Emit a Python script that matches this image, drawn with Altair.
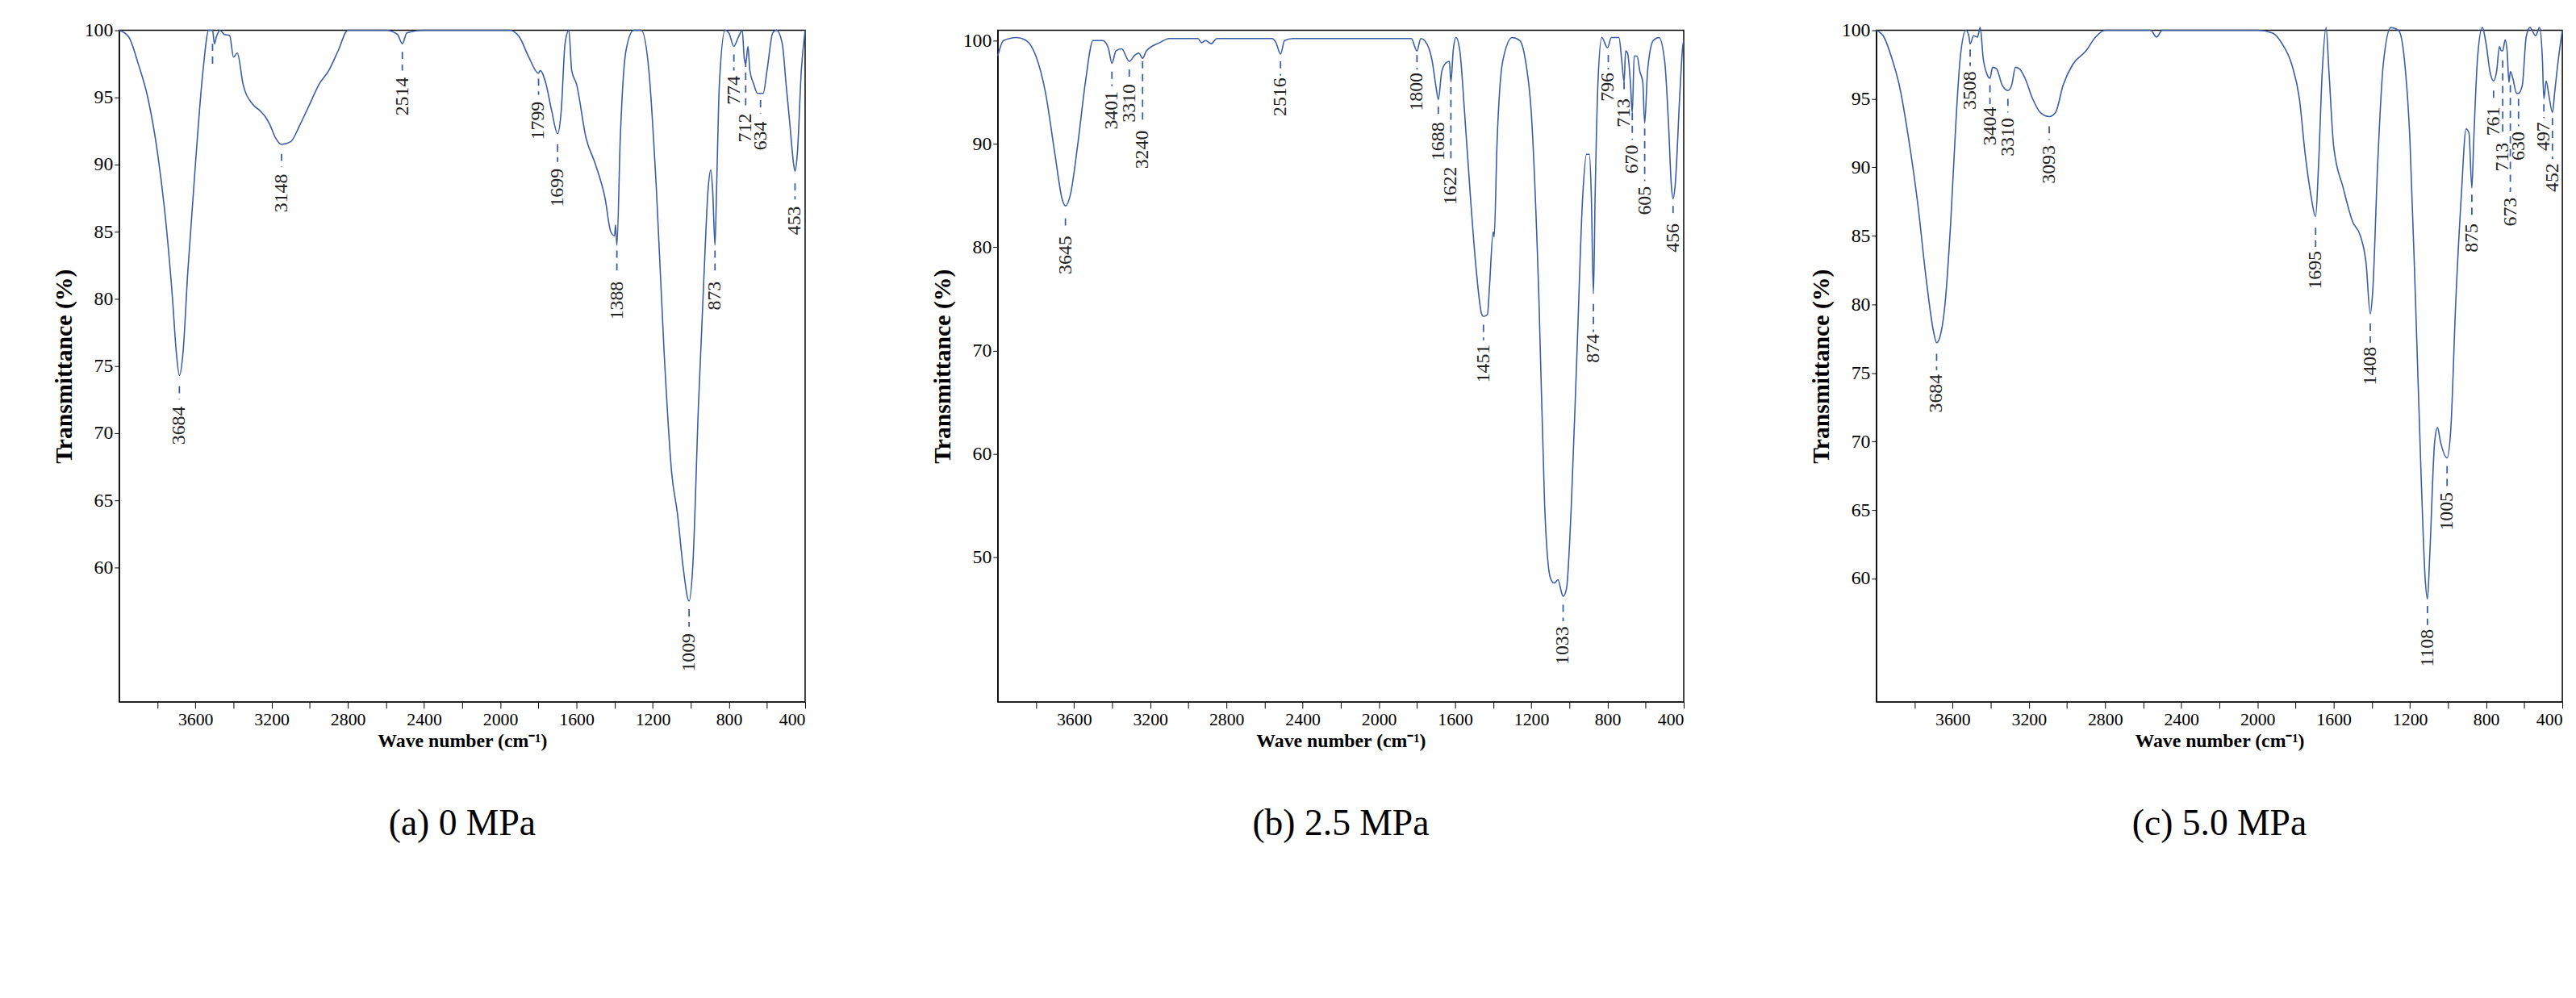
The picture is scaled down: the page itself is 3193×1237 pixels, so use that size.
import altair as alt
import pandas as pd

# spectra: (wave number, transmittance)
wn_a = [4000, 3950, 3900, 3850, 3800, 3750, 3720, 3700, 3684, 3665, 3640, 3600, 3560, 3530, 3510, 3500, 3490, 3470,
        3450, 3420, 3400, 3380, 3350, 3300, 3260, 3230, 3210, 3180, 3148, 3100, 3050, 3000, 2950, 2900, 2850, 2800,
        2600, 2540, 2514, 2490, 2400, 1950, 1900, 1850, 1800, 1790, 1760, 1730, 1699, 1680, 1660, 1640, 1625, 1600,
        1550, 1500, 1450, 1420, 1400, 1395, 1388, 1370, 1340, 1300, 1260, 1220, 1180, 1140, 1100, 1070, 1040, 1009,
        990, 960, 930, 910, 895, 885, 873, 865, 850, 820, 800, 774, 750, 730, 720, 712, 700, 690, 670, 650, 620, 600,
        570, 550, 520, 500, 480, 460, 453, 440, 420, 400]
t_a = [100, 99.5, 97.5, 95, 91, 85, 80, 76, 74.3, 76, 82, 90, 97, 100, 100, 99, 99.5, 100,
       99.7, 99.6, 98, 98.3, 96, 94.5, 94, 93.5, 93, 92, 91.5, 91.7, 93, 94.5, 96, 97, 98.5, 100,
       100, 99.7, 99, 99.8, 100, 100, 99.5, 98, 96.8, 97, 96, 94, 92.3, 94, 99, 100, 97, 96,
       92, 90, 87.5, 85, 84.7, 85.5, 84, 92, 98.5, 100, 100, 97, 88, 76, 67, 64, 60, 57.5,
       60, 72, 82, 88, 89.6, 88, 84, 88, 96, 100, 99.8, 98.8, 99.5, 100, 98, 97.5, 98.8, 97, 96, 95.3, 95.3, 97,
       99.8, 100, 99, 96, 93, 90, 89.5, 91, 97, 100]

wn_b = [4000, 3970, 3900, 3850, 3800, 3750, 3700, 3660, 3645, 3620, 3580, 3540, 3500, 3450, 3420, 3401, 3380, 3350,
        3310, 3280, 3260, 3240, 3220, 3150, 3100, 2950, 2930, 2910, 2880, 2850, 2560, 2540, 2516, 2495, 2450, 1830,
        1800, 1780, 1760, 1720, 1700, 1688, 1670, 1650, 1630, 1622, 1610, 1595, 1575, 1550, 1520, 1490, 1460, 1451,
        1430, 1420, 1400, 1395, 1380, 1350, 1300, 1260, 1230, 1200, 1160, 1130, 1100, 1080, 1060, 1040, 1033, 1015,
        990, 960, 930, 910, 895, 885, 874, 865, 850, 830, 800, 780, 740, 725, 713, 705, 695, 680, 670, 660, 645, 630,
        615, 605, 590, 560, 530, 500, 480, 465, 456, 445, 420, 405, 400]
t_b = [98.5, 100, 100.3, 100, 98.5, 95, 89, 84.5, 84, 85, 90, 96, 100, 100, 99.3, 97.8, 99, 99.2,
       98, 98.6, 98.8, 98.3, 99, 99.8, 100.2, 100.2, 99.8, 100, 99.7, 100.2, 100.2, 99.8, 98.7, 100, 100.2, 100.2,
       99, 100.2, 100, 98, 95.5, 94.3, 97, 97.8, 98, 96, 99, 100.3, 99, 93, 85, 78, 73.5, 73.3,
       73.5, 76, 81.5, 81, 90, 98, 100.3, 100, 98, 93, 75, 55, 48, 47.5, 47.8, 46.5, 46.2, 47,
       55, 70, 85, 89, 89, 85, 75.5, 85, 96, 100.3, 99.3, 100.3, 100.3, 98, 96, 99, 98.8, 96, 93, 98.5, 98.5, 97,
       96, 92, 97, 100, 100.3, 98, 92, 86, 84.7, 86, 95, 99.5, 100]

wn_c = [4000, 3960, 3920, 3880, 3830, 3780, 3740, 3700, 3684, 3660, 3640, 3610, 3580, 3560, 3530, 3515, 3508, 3490,
        3470, 3455, 3440, 3420, 3404, 3390, 3370, 3340, 3310, 3290, 3270, 3250, 3220, 3180, 3140, 3093, 3060, 3020,
        2970, 2900, 2850, 2800, 2560, 2530, 2500, 2000, 1920, 1870, 1820, 1780, 1750, 1720, 1695, 1680, 1660, 1640,
        1625, 1600, 1550, 1500, 1460, 1430, 1408, 1395, 1370, 1340, 1300, 1260, 1230, 1200, 1170, 1140, 1120, 1108,
        1095, 1070, 1055, 1040, 1005, 985, 960, 930, 905, 890, 875, 865, 845, 820, 800, 780, 761, 745, 730, 720, 713,
        700, 690, 680, 673, 660, 640, 630, 610, 590, 570, 540, 520, 505, 497, 485, 470, 452, 440, 420, 400]
t_c = [100, 99.5, 98, 96, 92, 87, 82, 78, 77.2, 78, 80, 86, 94, 98, 100, 99.6, 99, 99.6,
       99.5, 100.2, 98, 96.8, 96.5, 97.3, 97.2, 96, 95.6, 96, 97.3, 97.2, 96.5, 95, 94, 93.7, 94, 96,
       97.5, 98.5, 99.5, 100, 100, 99.5, 100, 100, 99.8, 99, 97.5, 95, 91, 88, 86.4, 90, 97, 100.2,
       97, 91.5, 88.5, 86, 85, 83, 79.3, 81, 90, 97.5, 100.2, 100, 98, 92, 80, 67, 60, 58.5,
       62, 70, 71, 70, 68.8, 71, 80, 88, 92.8, 92.5, 88.5, 92, 98, 100.2, 99, 97, 96.3, 97, 98.8, 98.5, 98.5,
       99.3, 98.5, 96.2, 97, 96.5, 95.4, 95.4, 96, 99.5, 100.2, 99.6, 100.2, 98, 95, 96.3, 95.2, 94, 95.5, 98, 100]

# peak labels: wave number, text, dash top, dash bottom, text top
pk_a = [3684, 3148, 2514, 1799, 1699, 1388, 1009, 873, 774, 712, 634, 453, 3510]
pk_a_text = ["3684", "3148", "2514", "1799", "1699", "1388", "1009", "873", "774", "712", "634", "453", ""]
pk_a_top = [73.5, 90.8, 98.4, 96.4, 91.5, 83.6, 56.9, 83.6, 98.2, 97.8, 94.8, 88.6, 99.0]
pk_a_bot = [72.5, 89.8, 97.0, 95.2, 90.2, 81.8, 55.6, 81.8, 97.0, 94.2, 93.8, 87.4, 97.2]
pk_a_txt = [72.0, 89.3, 96.5, 94.7, 89.7, 81.3, 55.1, 81.3, 96.6, 93.8, 93.2, 86.9, 97.0]

pk_b = [3645, 3401, 3310, 3240, 2516, 1800, 1688, 1622, 1451, 1033, 874, 796, 713, 670, 605, 456]
pk_b_text = [str(v) for v in pk_b]
pk_b_top = [82.8, 97.0, 97.2, 98.0, 98.0, 98.6, 93.6, 95.5, 72.5, 45.4, 74.5, 98.6, 96.0, 93.0, 91.5, 84.0]
pk_b_bot = [81.6, 95.6, 96.0, 91.8, 96.6, 97.2, 92.4, 88.4, 71.0, 43.8, 71.8, 97.2, 95.0, 90.4, 86.4, 82.8]
pk_b_txt = [81.1, 95.1, 95.8, 91.3, 96.4, 96.9, 92.1, 87.8, 70.6, 43.3, 71.6, 96.9, 94.4, 89.9, 85.9, 82.3]

pk_c = [3684, 3508, 3404, 3310, 3093, 1695, 1408, 1108, 1005, 875, 761, 713, 673, 630, 497, 452]
pk_c_text = [str(v) for v in pk_c]
pk_c_top = [76.4, 98.6, 96.0, 95.0, 93.0, 85.6, 78.6, 58.0, 68.2, 88.0, 95.6, 97.8, 96.0, 95.0, 94.6, 93.6]
pk_c_bot = [75.2, 97.4, 94.6, 94.0, 92.0, 84.2, 77.2, 56.6, 66.6, 86.2, 94.8, 92.2, 88.2, 93.0, 93.6, 90.6]
pk_c_txt = [74.9, 97.0, 94.4, 93.6, 91.6, 83.9, 76.9, 56.3, 66.3, 85.9, 94.4, 91.8, 87.8, 92.6, 93.3, 90.3]

LINE = "#3b5ca8"
SERIF = "Liberation Serif"


def panel(wn, t, pk, pk_text, pk_top, pk_bot, pk_txt, ymin, ymax, yvals, caption):
    spec = pd.DataFrame({"wn": wn, "t": t})
    peaks = pd.DataFrame({"wn": pk, "label": pk_text, "top": pk_top, "bot": pk_bot, "txt": pk_txt})
    xs = alt.Scale(domain=[4000, 400], nice=False)
    ys = alt.Scale(domain=[ymin, ymax], nice=False)
    line = alt.Chart(spec).mark_line(color=LINE, strokeWidth=1.6, interpolate="monotone").encode(
        x=alt.X("wn:Q", scale=xs, title="Wave number (cm⁻¹)",
                axis=alt.Axis(values=list(range(3800, 399, -200)), grid=False,
                              labelExpr="datum.value % 400 == 0 ? datum.value : ''",
                              labelFontSize=22, titleFontSize=24, titleFontWeight="bold",
                              labelFont=SERIF, titleFont=SERIF, labelColor="black", titleColor="black",
                              domainColor="black", tickColor="black", tickSize=8, labelPadding=4)),
        y=alt.Y("t:Q", scale=ys, title="Transmittance (%)",
                axis=alt.Axis(values=yvals, grid=False, labelFontSize=24, titleFontSize=30,
                              titleFontWeight="bold", labelFont=SERIF, titleFont=SERIF,
                              labelColor="black", titleColor="black", domainColor="black",
                              tickColor="black", tickSize=6, titlePadding=10)),
    )
    dash = alt.Chart(peaks).mark_rule(color=LINE, strokeWidth=1.8, strokeDash=[9, 7]).encode(
        x=alt.X("wn:Q", scale=xs), y=alt.Y("top:Q", scale=ys), y2="bot:Q")
    text = alt.Chart(peaks).mark_text(angle=270, align="right", baseline="middle", fontSize=24,
                                      font=SERIF, color="#222").encode(
        x=alt.X("wn:Q", scale=xs), y=alt.Y("txt:Q", scale=ys), text="label:N")
    return alt.layer(line, dash, text).properties(
        width=858, height=840,
        title=alt.TitleParams(caption, orient="bottom", fontSize=46, font=SERIF, fontWeight="normal",
                              color="black", offset=70))


pa = panel(wn_a, t_a, pk_a, pk_a_text, pk_a_top, pk_a_bot, pk_a_txt, 50, 100,
           [60, 65, 70, 75, 80, 85, 90, 95, 100], "(a) 0 MPa")
pb = panel(wn_b, t_b, pk_b, pk_b_text, pk_b_top, pk_b_bot, pk_b_txt, 36, 101,
           [50, 60, 70, 80, 90, 100], "(b) 2.5 MPa")
pc = panel(wn_c, t_c, pk_c, pk_c_text, pk_c_top, pk_c_bot, pk_c_txt, 51, 100,
           [60, 65, 70, 75, 80, 85, 90, 95, 100], "(c) 5.0 MPa")

chart = alt.hconcat(pa, pb, pc, spacing=152).configure_view(stroke="black", strokeWidth=1.5).properties(
    padding={"left": 56, "top": 12, "right": 5, "bottom": 5})

chart.save("out.html", embed_options={"renderer": "svg", "actions": False})
